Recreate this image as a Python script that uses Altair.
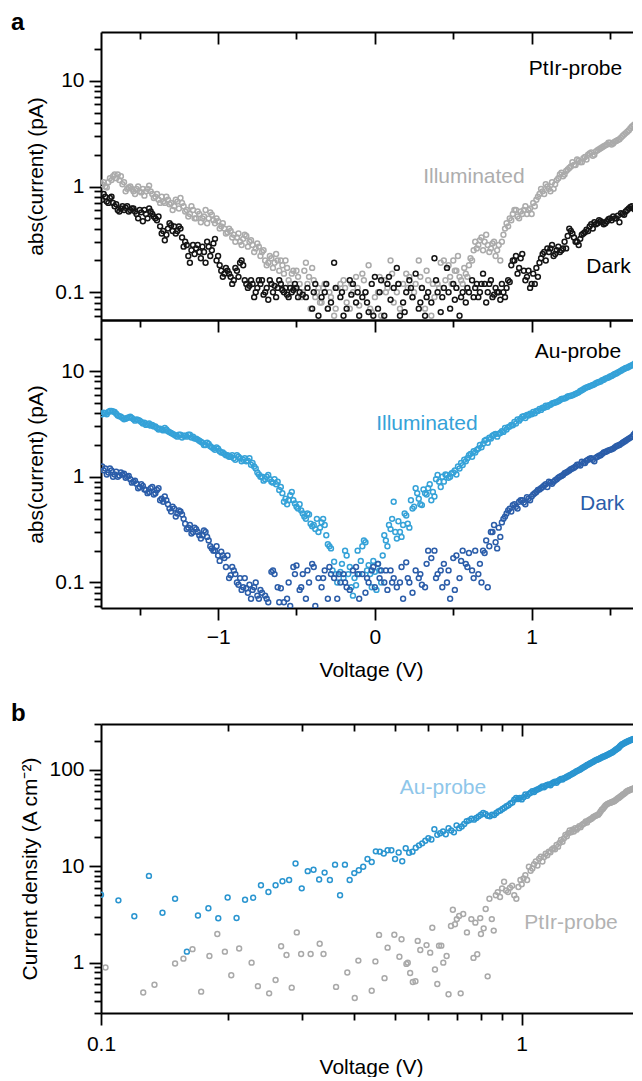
import altair as alt
import pandas as pd

FONT = "Liberation Sans"
FS = 21

# ---------------- panel a : voltage sweep (V) ----------------
va = [round(-1.74 + 0.02 * i, 2) for i in range(173)]
va_odd = [round(-1.73 + 0.02 * i, 2) for i in range(172)]

ptir_illuminated = [
    1.05, 1.0, 1.1, 1.15, 1.3, 1.3, 1.25, 1.1, 0.95, 1.0,
    0.9, 0.95, 0.9, 0.95, 0.9, 1.02, 0.85, 0.8, 0.75, 0.8,
    0.7, 0.75, 0.7, 0.65, 0.72, 0.78, 0.65, 0.6, 0.55, 0.6,
    0.5, 0.55, 0.5, 0.6, 0.5, 0.54, 0.45, 0.47, 0.42, 0.4,
    0.37, 0.38, 0.35, 0.33, 0.3, 0.32, 0.34, 0.3, 0.28, 0.26,
    0.27, 0.24, 0.2, 0.19, 0.21, 0.19, 0.2, 0.2, 0.15, 0.17,
    0.12, 0.16, 0.16, 0.12, 0.1, 0.19, 0.14, 0.17, 0.09, 0.11,
    0.08, 0.12, 0.07, 0.09, 0.06, 0.11, 0.12, 0.13, 0.08, 0.07,
    0.1, 0.14, 0.075, 0.15, 0.1, 0.18, 0.065, 0.09, 0.1, 0.06,
    0.13, 0.11, 0.2, 0.08, 0.1, 0.07, 0.12, 0.15, 0.14, 0.09,
    0.12, 0.2, 0.11, 0.07, 0.13, 0.06, 0.09, 0.12, 0.19, 0.2,
    0.17, 0.14, 0.2, 0.16, 0.14, 0.12, 0.15, 0.18, 0.2, 0.3,
    0.28, 0.33, 0.3, 0.28, 0.26, 0.3, 0.25, 0.2, 0.35, 0.45,
    0.5, 0.55, 0.6, 0.5, 0.55, 0.65, 0.6, 0.55, 0.65, 0.8,
    0.95, 0.85, 1.0, 0.9, 0.95, 1.15, 1.3, 1.25, 1.4, 1.5,
    1.7, 1.6, 1.75, 1.7, 1.9, 2.0, 2.1, 2.0, 2.2, 2.3,
    2.4, 2.5, 2.6, 2.55, 2.7, 2.8, 3.0, 3.2, 3.4, 3.7,
    3.9, 4.1, 4.2,
]
ptir_illuminated_odd = [
    1.1, 0.98, 1.2, 1.25, 1.2, 1.15, 1.05, 0.9, 0.98, 0.95,
    0.85, 1.0, 0.88, 0.82, 0.95, 0.9, 0.78, 0.85, 0.7, 0.72,
    0.8, 0.68, 0.6, 0.75, 0.62, 0.7, 0.58, 0.52, 0.65, 0.5,
    0.58, 0.46, 0.52, 0.45, 0.57, 0.48, 0.5, 0.4, 0.45, 0.36,
    0.4, 0.33, 0.3, 0.36, 0.28, 0.35, 0.27, 0.31, 0.24, 0.29,
    0.22, 0.25, 0.18, 0.22, 0.17, 0.23, 0.16, 0.18, 0.2, 0.13,
    0.15, 0.11, 0.14, 0.09, 0.16, 0.12, 0.07, 0.13, 0.1, 0.08,
    0.11, None, 0.1, None, 0.07, None, None, 0.11, None, 0.12,
    None, 0.11, None, 0.13, None, 0.07, None, None, 0.14, None,
    0.1, None, 0.15, None, 0.12, None, None, 0.11, None, 0.1,
    None, 0.14, None, 0.16, None, 0.12, None, 0.11, None, 0.13,
    0.18, 0.12, 0.16, 0.22, 0.13, 0.17, 0.14, 0.21, 0.25, 0.26,
    0.31, 0.25, 0.35, 0.24, 0.29, 0.22, 0.28, 0.3, 0.4, 0.42,
    0.48, 0.6, 0.52, 0.58, 0.6, 0.55, 0.62, 0.7, 0.75, 0.85,
    0.9, 1.05, 0.95, 1.1, 1.05, 1.2, 1.35, 1.3, 1.45, 1.55,
    1.6, 1.8, 1.7, 1.85, 1.8, 2.05, 1.95, 2.15, 2.25, 2.35,
    2.45, 2.6, 2.5, 2.65, 2.75, 2.9, 3.1, 3.3, 3.55, 3.8,
    4.0, 4.15,
]
ptir_dark = [
    0.75, 0.8, 0.7, 0.8, 0.65, 0.6, 0.62, 0.6, 0.65, 0.6,
    0.62, 0.55, 0.6, 0.47, 0.55, 0.62, 0.55, 0.5, 0.52, 0.36,
    0.31, 0.4, 0.43, 0.42, 0.38, 0.4, 0.27, 0.28, 0.19, 0.28,
    0.26, 0.24, 0.27, 0.19, 0.27, 0.25, 0.32, 0.22, 0.16, 0.15,
    0.16, 0.14, 0.13, 0.16, 0.19, 0.18, 0.12, 0.115, 0.12, 0.1,
    0.13, 0.13, 0.1, 0.085, 0.12, 0.115, 0.11, 0.12, 0.1, 0.095,
    0.11, 0.105, 0.11, 0.1, 0.095, 0.09, None, 0.07, 0.12, 0.06,
    0.09, 0.1, 0.07, 0.08, 0.19, None, 0.09, 0.06, 0.07, 0.13,
    0.12, 0.08, 0.06, 0.09, 0.1, 0.065, 0.12, 0.14, 0.07, 0.13,
    0.06, 0.12, 0.085, 0.11, 0.17, 0.06, 0.08, 0.1, 0.13, 0.09,
    0.15, 0.07, 0.11, 0.06, 0.1, 0.08, 0.21, 0.1, 0.065, 0.11,
    0.17, 0.07, 0.12, 0.11, 0.06, 0.1, 0.08, 0.1, 0.13, 0.11,
    0.09, 0.12, 0.12, 0.1, 0.13, 0.095, 0.1, 0.085, 0.1, 0.11,
    0.125, 0.2, 0.22, 0.17, 0.23, 0.13, 0.16, 0.12, 0.12, 0.14,
    0.21, 0.24, 0.26, 0.26, 0.22, 0.25, 0.24, 0.26, 0.26, 0.4,
    0.36, 0.3, 0.28, 0.35, 0.37, 0.38, 0.44, 0.46, 0.45, 0.47,
    0.44, 0.47, 0.5, 0.52, 0.5, 0.46, 0.55, 0.58, 0.62, 0.65,
    0.6, 0.65, 0.6,
]
ptir_dark_odd = [
    0.85, 0.72, 0.78, 0.7, 0.68, 0.58, 0.65, 0.63, 0.58, 0.62,
    0.58, 0.5, 0.57, 0.6, 0.5, 0.58, 0.52, 0.48, 0.42, 0.38,
    0.35, 0.45, 0.38, 0.36, 0.42, 0.33, 0.3, 0.22, 0.25, 0.23,
    0.28, 0.21, 0.24, 0.3, 0.22, 0.29, 0.2, 0.18, 0.14, 0.17,
    0.15, 0.12, 0.17, 0.14, 0.2, 0.13, 0.11, 0.13, 0.09, 0.11,
    0.12, 0.095, 0.11, 0.13, 0.1, 0.09, 0.13, 0.105, 0.11, 0.09,
    0.1, 0.12, 0.09, None, None, 0.11, None, 0.1, None, None,
    None, 0.12, None, None, 0.11, None, 0.1, None, None, 0.095,
    None, 0.1, None, None, 0.08, None, 0.06, None, 0.1, None,
    None, 0.14, None, None, 0.12, None, 0.065, None, 0.11, None,
    None, 0.08, None, 0.09, None, None, 0.13, None, 0.09, None,
    0.1, None, 0.085, None, 0.09, None, 0.11, None, 0.09, 0.12,
    0.1, 0.15, 0.08, 0.12, 0.09, 0.11, 0.1, 0.12, 0.09, 0.13,
    0.18, 0.2, 0.15, 0.21, 0.16, 0.14, 0.11, 0.15, 0.17, 0.19,
    0.23, 0.2, 0.24, 0.28, 0.23, 0.27, 0.25, 0.3, 0.34, 0.38,
    0.33, 0.3, 0.32, 0.36, 0.39, 0.42, 0.4, 0.44, 0.48, 0.46,
    0.45, 0.49, 0.48, 0.5, 0.53, 0.56, 0.54, 0.6, 0.64, 0.62,
    0.58, 0.63,
]
au_illuminated = [
    3.9, 4.0, 4.1, 4.2, 4.1, 3.8, 3.7, 3.5, 3.6, 3.7,
    3.5, 3.5, 3.4, 3.2, 3.1, 3.2, 3.1, 3.0, 2.8, 2.8,
    2.9, 2.7, 2.6, 2.5, 2.4, 2.5, 2.45, 2.4, 2.5, 2.4,
    2.3, 2.2, 2.1, 2.0, 2.05, 1.9, 1.8, 1.85, 1.7, 1.65,
    1.6, 1.55, 1.5, 1.6, 1.5, 1.45, 1.4, 1.5, 1.35, 1.2,
    1.05, 1.0, 0.95, 1.04, 0.9, 0.95, 0.9, 0.8, 0.58, 0.55,
    0.67, 0.6, 0.52, 0.55, 0.45, 0.4, 0.44, 0.34, 0.32, 0.3,
    0.37, 0.35, 0.23, 0.21, 0.157, 0.1, 0.126, 0.11, 0.18, 0.14,
    0.075, 0.094, 0.12, 0.22, 0.24, 0.146, 0.09, 0.126, 0.15, 0.1,
    0.28, 0.22, 0.32, 0.58, 0.26, 0.3, 0.35, 0.43, 0.33, 0.5,
    0.78, 0.62, 0.54, 0.7, 0.78, 0.6, 0.65, 1.04, 0.8, 0.9,
    1.04, 1.0, 1.1, 1.05, 1.2, 1.29, 1.4, 1.6, 1.55, 1.7,
    1.85, 1.9, 2.2, 2.1, 2.3, 2.5, 2.4, 2.6, 2.66, 2.8,
    3.0, 3.08, 3.2, 3.4, 3.7, 3.6, 3.8, 3.9, 4.0, 4.2,
    4.3, 4.5, 4.6, 4.8, 5.0, 5.1, 5.3, 5.5, 5.6, 5.8,
    5.9, 6.1, 6.3, 6.6, 6.9, 7.1, 7.3, 7.5, 7.8, 8.0,
    8.3, 8.6, 8.9, 9.2, 9.5, 9.9, 10.3, 10.7, 11.0, 11.4,
    11.9, 12.4, 12.9,
]
au_illuminated_odd = [
    4.05, 3.9, 4.2, 4.15, 3.95, 3.75, 3.6, 3.55, 3.65, 3.6,
    3.4, 3.45, 3.3, 3.25, 3.15, 3.05, 3.0, 2.9, 2.85, 2.75,
    2.8, 2.65, 2.55, 2.45, 2.5, 2.35, 2.45, 2.5, 2.35, 2.3,
    2.25, 2.15, 2.0, 2.1, 1.95, 1.85, 1.9, 1.75, 1.7, 1.6,
    1.55, 1.6, 1.45, 1.55, 1.4, 1.5, 1.42, 1.3, 1.25, 1.1,
    1.0, 0.92, 1.0, 0.95, 0.88, 0.85, 0.75, 0.7, 0.62, 0.6,
    0.72, 0.56, 0.5, 0.48, 0.42, 0.45, 0.36, 0.35, 0.4, 0.33,
    0.4, 0.28, 0.22, 0.13, 0.12, None, 0.15, 0.2, 0.12, 0.09,
    0.11, 0.2, 0.16, 0.25, 0.13, 0.12, 0.16, 0.085, 0.13, 0.18,
    0.25, 0.35, 0.4, 0.3, 0.38, 0.27, 0.45, 0.36, 0.6, 0.52,
    0.7, 0.55, 0.76, 0.68, 0.85, 0.72, 0.95, 0.9, 1.0, 1.05,
    0.98, 1.08, 1.15, 1.25, 1.35, 1.45, 1.5, 1.65, 1.75, 1.8,
    2.0, 2.05, 2.25, 2.35, 2.45, 2.55, 2.55, 2.7, 2.9, 2.95,
    3.1, 3.3, 3.5, 3.55, 3.75, 3.85, 3.95, 4.1, 4.2, 4.4,
    4.5, 4.7, 4.75, 4.95, 5.05, 5.2, 5.45, 5.5, 5.75, 5.85,
    6.0, 6.2, 6.5, 6.75, 7.0, 7.2, 7.4, 7.7, 7.9, 8.2,
    8.5, 8.7, 9.0, 9.4, 9.7, 10.1, 10.5, 10.8, 11.2, 11.6,
    12.2, 12.6,
]
au_dark = [
    1.25, 1.2, 1.1, 1.15, 1.05, 1.0, 1.1, 1.07, 1.0, 0.95,
    0.9, 0.86, 0.8, 0.82, 0.75, 0.72, 0.8, 0.7, 0.78, 0.62,
    0.65, 0.55, 0.47, 0.5, 0.45, 0.47, 0.4, 0.32, 0.35, 0.3,
    0.32, 0.28, 0.28, 0.3, 0.25, 0.21, 0.2, 0.18, 0.195, 0.17,
    0.18, 0.117, 0.13, 0.1, 0.11, 0.09, 0.088, 0.095, 0.085, 0.1,
    0.07, 0.08, 0.075, 0.065, 0.126, 0.12, 0.09, 0.088, 0.065, 0.07,
    0.06, 0.14, 0.145, 0.085, 0.12, 0.07, 0.1, 0.15, 0.06, 0.11,
    0.09, 0.13, 0.07, 0.12, 0.11, 0.07, 0.1, 0.12, 0.09, 0.085,
    0.13, 0.14, 0.07, 0.12, 0.08, 0.1, 0.13, 0.09, 0.15, 0.13,
    0.1, 0.085, 0.13, 0.11, 0.09, 0.1, 0.07, 0.155, 0.1, 0.08,
    0.13, 0.11, 0.095, 0.09, 0.2, 0.17, 0.2, 0.12, 0.13, 0.15,
    0.1, 0.07, 0.17, 0.18, 0.11, 0.2, 0.15, 0.19, 0.13, 0.2,
    0.12, 0.1, 0.19, 0.09, 0.3, 0.35, 0.21, 0.27, 0.4, 0.45,
    0.5, 0.54, 0.52, 0.58, 0.6, 0.55, 0.62, 0.65, 0.7, 0.75,
    0.78, 0.83, 0.8, 0.88, 0.9, 0.95, 1.0, 1.04, 1.1, 1.15,
    1.2, 1.25, 1.3, 1.39, 1.35, 1.45, 1.5, 1.4, 1.55, 1.6,
    1.7, 1.75, 1.8, 1.85, 1.95, 2.0, 2.1, 2.2, 2.3, 2.4,
    2.6, 2.8, 3.0,
]
au_dark_odd = [
    1.15, 1.05, 1.2, 1.0, 1.12, 1.03, 1.05, 0.98, 1.02, 0.88,
    0.92, 0.78, 0.85, 0.76, 0.7, 0.78, 0.68, 0.75, 0.6, 0.58,
    0.6, 0.5, 0.52, 0.42, 0.48, 0.44, 0.36, 0.33, 0.29, 0.33,
    0.3, 0.26, 0.31, 0.27, 0.22, 0.2, 0.22, 0.16, 0.18, 0.14,
    0.11, 0.14, 0.12, 0.095, 0.085, 0.11, 0.08, 0.07, 0.09, 0.075,
    0.085, None, 0.07, None, 0.13, None, 0.065, None, None, 0.1,
    None, 0.12, None, 0.09, None, 0.13, None, 0.14, None, None,
    0.11, None, 0.14, None, None, 0.12, None, 0.1, None, None,
    None, 0.12, None, None, 0.11, None, 0.14, None, 0.11, None,
    0.13, None, 0.1, None, None, 0.14, None, 0.11, None, None,
    None, 0.12, None, 0.15, None, None, 0.11, None, 0.09, None,
    0.13, None, 0.085, None, 0.16, None, 0.14, None, 0.11, None,
    0.15, 0.2, 0.25, 0.22, 0.3, 0.24, 0.33, 0.37, 0.42, 0.48,
    0.47, 0.55, 0.5, 0.6, 0.57, 0.64, 0.6, 0.68, 0.72, 0.76,
    0.8, 0.85, 0.9, 0.86, 0.93, 0.98, 1.02, 1.08, 1.12, 1.18,
    1.22, 1.3, 1.28, 1.35, 1.42, 1.48, 1.45, 1.52, 1.58, 1.65,
    1.72, 1.78, 1.82, 1.9, 1.98, 2.05, 2.15, 2.25, 2.35, 2.5,
    2.7, 2.9,
]

# ---------------- panel b : current density ----------------
vb_au = [round(0.10 + 0.01 * i, 2) for i in range(183)]
au_density = [
    5.07, 4.43, 3.03, 7.95, 3.29, 4.6, 1.3, 3.08, 3.67, 2.89,
    4.75, 2.91, 4.5, 4.72, 6.35, 5.41, 6.35, 7.0, 7.2, 10.7,
    5.9, 8.9, 9.2, 7.3, 8.6, 7.2, 10.4, 5.0, 10.4, 7.2,
    8.5, 9.1, 9.9, 11.9, 11.1, 14.3, 14.2, 13.6, 14.7, 14.7,
    11.9, 13.9, 11.3, 15.4, 13.8, 14.2, 15.6, 16.5, 17.3, 18.4,
    19.6, 19.0, 24.3, 21.2, 22.0, 23.0, 21.5, 24.9, 23.5, 22.5,
    26.6, 24.9, 25.9, 27.5, 29.3, 30.0, 31.2, 30.5, 31.7, 33.0,
    34.3, 35.8, 35.0, 33.5, 33.0, 34.3, 34.0, 35.8, 37.2, 38.0,
    39.4, 40.5, 42.0, 43.0, 44.8, 46.0, 49.0, 51.3, 50.0, 51.3,
    49.5, 52.0, 55.6, 54.0, 56.5, 58.0, 60.2, 59.0, 61.5, 62.8,
    64.0, 65.5, 67.5, 66.0, 68.5, 70.0, 70.8, 69.5, 72.5, 74.0,
    75.5, 73.5, 77.0, 79.0, 80.5, 79.5, 82.0, 83.2, 85.0, 86.0,
    88.0, 89.5, 91.6, 93.0, 95.0, 97.0, 98.5, 100.0, 101.6, 104.0,
    106, 108, 110, 112.8, 114, 116, 118, 120, 122, 124,
    126, 128, 129, 131, 133, 135, 137, 138, 140, 142,
    144, 146, 148, 150, 152, 155, 158, 161, 164, 167,
    170, 175, 180, 184, 186, 189, 192, 194, 196, 199,
    201, 203, 205, 207, 209, 211, 213, 215, 217, 219,
    221, 223, 225,
]
ptir_v_sparse = [
    0.1025, 0.126, 0.134, 0.150, 0.157, 0.165, 0.173, 0.181, 0.189, 0.197,
    0.204, 0.213, 0.228, 0.236, 0.251, 0.260, 0.268, 0.276, 0.284, 0.292,
    0.299, 0.315, 0.331, 0.338, 0.362, 0.385, 0.401, 0.409, 0.440, 0.449,
    0.458, 0.472, 0.480, 0.498, 0.512, 0.518, 0.532, 0.536, 0.543, 0.551,
    0.559, 0.566, 0.574, 0.594, 0.606, 0.613, 0.622, 0.630, 0.636, 0.644,
    0.651, 0.663, 0.670, 0.679, 0.686, 0.694, 0.701, 0.710, 0.716, 0.726,
    0.741, 0.759, 0.768, 0.776, 0.784, 0.797, 0.800, 0.812, 0.821, 0.830,
    0.838, 0.849, 0.858, 0.868, 0.877, 0.888, 0.898, 0.908, 0.918, 0.928,
    0.938, 0.949, 0.960, 0.971, 0.982, 0.993,
]
ptir_density_sparse = [
    0.89, 0.49, 0.59, 0.98, 1.10, 1.38, 0.50, 1.17, 1.98, 1.30,
    0.74, 1.40, 1.00, 0.57, 0.48, 0.66, 1.48, 1.20, 0.55, 2.06,
    1.23, 1.23, 1.57, 1.23, 0.56, 0.79, 0.43, 1.05, 0.51, 1.03,
    1.94, 0.69, 1.43, 1.95, 1.15, 1.75, 0.97, 1.00, 0.78, 0.63,
    0.64, 1.68, 1.35, 1.52, 1.27, 2.30, 0.85, 0.60, 1.50, 1.50,
    1.00, 1.17, 0.47, 2.40, 3.54, 2.50, 2.83, 3.05, 0.48, 3.20,
    2.06, 2.83, 1.12, 2.60, 1.22, 2.90, 1.98, 2.27, 3.60, 0.72,
    4.60, 2.83, 2.15, 5.00, 5.40, 4.80, 5.90, 6.90, 5.60, 5.40,
    6.00, 6.30, 5.00, 4.60, 6.10, 7.20,
]
ptir_v_dense = [round(1.00 + 0.01 * i, 2) for i in range(93)]
ptir_density_dense = [
    6.5, 7.5, 8.1, 7.2, 9.9, 9.0, 9.5, 10.5, 11.2, 10.2,
    12.0, 12.6, 11.2, 12.5, 13.5, 13.0, 14.2, 14.0, 15.0, 15.4,
    15.0, 16.7, 16.0, 17.5, 18.8, 18.0, 19.5, 21.2, 20.5, 22.0,
    23.5, 22.5, 24.0, 23.0, 24.9, 24.0, 25.0, 26.0, 25.5, 26.9,
    27.5, 28.0, 29.2, 28.5, 30.0, 30.4, 31.0, 31.5, 32.5, 33.0,
    33.5, 34.0, 34.3, 35.5, 37.0, 38.7, 39.5, 41.0, 42.5, 43.7,
    44.5, 45.0, 45.5, 46.0, 46.5, 47.0, 47.4, 48.5, 49.5, 50.5,
    51.3, 52.5, 53.5, 54.5, 55.6, 56.5, 57.5, 59.0, 60.2, 60.8,
    61.5, 62.0, 62.8, 63.5, 64.0, 64.5, 65.3, 66.5, 67.5, 69.0,
    70.8, 73.0, 75.0,
]

# ---------------- annotation texts (data coordinates) ----------------
top_labels = ["PtIr-probe", "Illuminated", "Dark"]
top_label_v = [1.28, 0.632, 1.49]
top_label_i = [11.3, 1.08, 0.151]
bot_labels = ["Au-probe", "Illuminated", "Dark"]
bot_label_v = [1.295, 0.332, 1.45]
bot_label_i = [13.2, 2.76, 0.481]
b_labels = ["Au-probe", "PtIr-probe"]
b_label_v = [0.65, 1.31]
b_label_j = [56.0, 2.22]

# ---------------- ticks ----------------
a_major_y = [0.1, 1, 10]
a_minor_y = [0.06, 0.07, 0.08, 0.09, 0.2, 0.3, 0.4, 0.5, 0.6, 0.7, 0.8, 0.9,
             2, 3, 4, 5, 6, 7, 8, 9, 20]
a_major_x = [-1, 0, 1]
a_minor_x = [-1.5, -0.5, 0.5, 1.5]
b_major_y = [1, 10, 100]
b_minor_y = [0.3, 0.4, 0.5, 0.6, 0.7, 0.8, 0.9, 2, 3, 4, 5, 6, 7, 8, 9,
             20, 30, 40, 50, 60, 70, 80, 90, 200, 300]
b_major_x = [0.1, 1]
b_minor_x = [0.2, 0.3, 0.4, 0.5, 0.6, 0.7, 0.8, 0.9]

W = 540
H_A = 288
H_B = 289

X_A = alt.Scale(domain=[-1.747, 1.6975], nice=False, zero=False)
Y_TOP = alt.Scale(type="log", domain=[0.0547, 28.9], nice=False)
Y_BOT = alt.Scale(type="log", domain=[0.0573, 30.5], nice=False)
X_B = alt.Scale(type="log", domain=[0.1, 1.921], nice=False)
Y_B = alt.Scale(type="log", domain=[0.3, 300], nice=False)

LOG_FMT = "datum.value >= 1 ? format(datum.value, 'd') : format(datum.value, '.1f')"
LIN_FMT = "format(datum.value, 'd')"


def mk_axis(orient, values=None, tick=0, offset=0, domain=False, labels=False,
            title=None, label_expr=None, label_pad=6, title_pad=8):
    kw = dict(orient=orient, grid=False, domain=domain, labels=labels,
              ticks=tick > 0, title=title, offset=offset, minExtent=0)
    if domain:
        kw.update(domainColor="black", domainWidth=2)
    if tick > 0:
        kw.update(tickSize=tick, tickColor="black", tickWidth=1.8)
    if values is not None:
        kw["values"] = values
    if labels:
        kw.update(labelFont=FONT, labelFontSize=FS, labelColor="black",
                  labelPadding=label_pad, labelFlush=False, labelOverlap=False,
                  labelExpr=label_expr)
    if title is not None:
        kw.update(titleFont=FONT, titleFontSize=FS, titleFontWeight="normal",
                  titleColor="black", titlePadding=title_pad)
    return alt.Axis(**kw)


def axis_layer(xs, ys, xaxis, yaxis, x0, y0):
    df = pd.DataFrame({"v": [x0], "i": [y0]})
    xenc = alt.X("v:Q", scale=xs, axis=xaxis) if xaxis is not None else alt.X("v:Q", scale=xs, axis=None)
    yenc = alt.Y("i:Q", scale=ys, axis=yaxis) if yaxis is not None else alt.Y("i:Q", scale=ys, axis=None)
    return alt.Chart(df).mark_point(opacity=0).encode(x=xenc, y=yenc)


def points(vs, ys, color, xs, yscale):
    df = pd.DataFrame({"v": vs, "i": ys}).dropna()
    return alt.Chart(df).mark_point(
        shape="circle", filled=False, size=24, strokeWidth=1.5, color=color,
        opacity=1, clip=True
    ).encode(x=alt.X("v:Q", scale=xs, axis=None), y=alt.Y("i:Q", scale=yscale, axis=None))


def label(text, v, y, color, xs, yscale):
    df = pd.DataFrame({"v": [v], "i": [y], "t": [text]})
    return alt.Chart(df).mark_text(
        font=FONT, fontSize=FS, color=color, align="center", baseline="alphabetic"
    ).encode(x=alt.X("v:Q", scale=xs, axis=None), y=alt.Y("i:Q", scale=yscale, axis=None), text="t:N")


GRAY_A = "#ababab"
BLACK = "#141414"
LBLUE = "#35a2d8"
DBLUE = "#2b5da9"
AU_B = "#2a95d0"
AU_LAB = "#8ec6ea"
PT_B = "#a9a9a9"
PT_LAB = "#b2b2b2"

# ---- panel a, top (PtIr) ----
top_layers = [
    points(va + va_odd, ptir_illuminated + ptir_illuminated_odd, GRAY_A, X_A, Y_TOP),
    points(va + va_odd, ptir_dark + ptir_dark_odd, BLACK, X_A, Y_TOP),
    label(top_labels[0], top_label_v[0], top_label_i[0], "black", X_A, Y_TOP),
    label(top_labels[1], top_label_v[1], top_label_i[1], "#adadad", X_A, Y_TOP),
    label(top_labels[2], top_label_v[2], top_label_i[2], "black", X_A, Y_TOP),
    axis_layer(X_A, Y_TOP, mk_axis("top", domain=True),
               mk_axis("left", a_major_y, 12, domain=True, labels=True, title="abs(current) (pA)",
                       label_expr=LOG_FMT, label_pad=5), 0, 1),
    axis_layer(X_A, Y_TOP, mk_axis("top", a_major_x, 12, offset=-12),
               mk_axis("left", a_minor_y, 7), 0, 1),
    axis_layer(X_A, Y_TOP, mk_axis("top", a_minor_x, 7, offset=-7),
               mk_axis("right", a_major_y, 5, offset=-5), 0, 1),
    axis_layer(X_A, Y_TOP, mk_axis("bottom", domain=True), None, 0, 1),
]
top = alt.layer(*top_layers).resolve_axis(x="independent", y="independent").properties(
    width=W, height=H_A,
    title=alt.TitleParams("a", anchor="start", frame="group", dx=-90, offset=-23,
                          font=FONT, fontSize=24, fontWeight="bold", color="black",
                          baseline="alphabetic"),
)

# ---- panel a, bottom (Au) ----
bot_layers = [
    points(va + va_odd, au_illuminated + au_illuminated_odd, LBLUE, X_A, Y_BOT),
    points(va + va_odd, au_dark + au_dark_odd, DBLUE, X_A, Y_BOT),
    label(bot_labels[0], bot_label_v[0], bot_label_i[0], "black", X_A, Y_BOT),
    label(bot_labels[1], bot_label_v[1], bot_label_i[1], LBLUE, X_A, Y_BOT),
    label(bot_labels[2], bot_label_v[2], bot_label_i[2], DBLUE, X_A, Y_BOT),
    axis_layer(X_A, Y_BOT,
               mk_axis("bottom", a_major_x, 12, domain=True, labels=True, title="Voltage (V)",
                       label_expr=LIN_FMT, label_pad=6, title_pad=12),
               mk_axis("left", a_major_y, 12, domain=True, labels=True, title="abs(current) (pA)",
                       label_expr=LOG_FMT, label_pad=5), 0, 1),
    axis_layer(X_A, Y_BOT, mk_axis("bottom", a_minor_x, 7), mk_axis("left", a_minor_y, 7), 0, 1),
    axis_layer(X_A, Y_BOT, mk_axis("top", domain=True), mk_axis("right", a_major_y, 5, offset=-5), 0, 1),
    axis_layer(X_A, Y_BOT, mk_axis("top", a_major_x, 12, offset=-12), None, 0, 1),
    axis_layer(X_A, Y_BOT, mk_axis("top", a_minor_x, 7, offset=-7), None, 0, 1),
]
bottom = alt.layer(*bot_layers).resolve_axis(x="independent", y="independent").properties(
    width=W, height=H_A)

# ---- spacer ----
spacer = alt.Chart(pd.DataFrame({"v": [0]})).mark_point(opacity=0).encode(
    x=alt.value(0), y=alt.value(0)).properties(width=W, height=116)

# ---- panel b ----
b_layers = [
    points(vb_au, au_density, AU_B, X_B, Y_B),
    points(ptir_v_sparse + ptir_v_dense, ptir_density_sparse + ptir_density_dense, PT_B, X_B, Y_B),
    label(b_labels[0], b_label_v[0], b_label_j[0], AU_LAB, X_B, Y_B),
    label(b_labels[1], b_label_v[1], b_label_j[1], PT_LAB, X_B, Y_B),
    axis_layer(X_B, Y_B,
               mk_axis("bottom", b_major_x, 12, domain=True, labels=True, title="Voltage (V)",
                       label_expr=LOG_FMT, label_pad=8, title_pad=2),
               mk_axis("left", b_major_y, 12, domain=True, labels=True,
                       title="Current density (A cm\u207b\u00b2)", label_expr=LOG_FMT, label_pad=5),
               0.5, 1),
    axis_layer(X_B, Y_B, mk_axis("bottom", b_minor_x, 7), mk_axis("left", b_minor_y, 7), 0.5, 1),
    axis_layer(X_B, Y_B, mk_axis("top", domain=True), mk_axis("right", b_major_y, 5, offset=-5), 0.5, 1),
    axis_layer(X_B, Y_B, mk_axis("top", [1], 12, offset=-12), None, 0.5, 1),
    axis_layer(X_B, Y_B, mk_axis("top", b_minor_x, 7, offset=-7), None, 0.5, 1),
]
panel_b = alt.layer(*b_layers).resolve_axis(x="independent", y="independent").properties(
    width=W, height=H_B,
    title=alt.TitleParams("b", anchor="start", frame="group", dx=-90, offset=-22,
                          font=FONT, fontSize=24, fontWeight="bold", color="black",
                          baseline="alphabetic"),
)

chart = alt.vconcat(top, bottom, spacer, panel_b, spacing=0, bounds="flush").properties(
    padding={"left": 3, "top": 3, "right": -9, "bottom": 0}
).configure_view(stroke=None)

chart.save("out.html", embed_options={"renderer": "svg", "actions": False})
